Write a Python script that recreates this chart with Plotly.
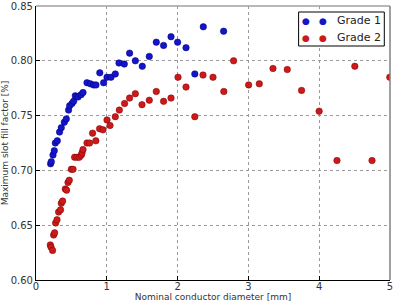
import plotly.graph_objects as go

# Grade 1 (blue)
g1_x = [0.206, 0.216, 0.240, 0.258, 0.273, 0.301, 0.333, 0.357, 0.400, 0.428,
        0.460, 0.475, 0.508, 0.531, 0.555, 0.593, 0.636, 0.664, 0.720, 0.767,
        0.814, 0.847, 0.901, 0.955, 1.003, 1.059, 1.120, 1.172, 1.247, 1.322,
        1.403, 1.501, 1.600, 1.699, 1.802, 1.907, 2.000, 2.119, 2.243, 2.363, 2.650]
g1_y = [0.706, 0.708, 0.714, 0.718, 0.725, 0.727, 0.735, 0.739, 0.744, 0.747,
        0.755, 0.759, 0.761, 0.763, 0.768, 0.767, 0.769, 0.771, 0.780, 0.779,
        0.778, 0.778, 0.789, 0.780, 0.785, 0.785, 0.788, 0.798, 0.797, 0.807,
        0.800, 0.795, 0.804, 0.817, 0.814, 0.822, 0.817, 0.812, 0.788, 0.831, 0.827]

# Grade 2 (red)
g2_x = [0.202, 0.212, 0.234, 0.249, 0.263, 0.277, 0.297, 0.319, 0.347, 0.357,
        0.376, 0.414, 0.432, 0.452, 0.470, 0.499, 0.523, 0.545, 0.579, 0.612,
        0.640, 0.650, 0.664, 0.720, 0.757, 0.799, 0.845, 0.898, 0.946, 1.003,
        1.045, 1.120, 1.177, 1.251, 1.322, 1.403, 1.497, 1.600, 1.699, 1.802,
        1.907, 2.006, 2.119, 2.243, 2.359, 2.500, 2.653, 2.791, 3.003, 3.154,
        3.347, 3.549, 3.751, 3.999, 4.251, 4.503, 4.746, 4.997]
g2_y = [0.632, 0.630, 0.627, 0.641, 0.643, 0.652, 0.655, 0.662, 0.664, 0.670,
        0.672, 0.683, 0.682, 0.689, 0.691, 0.701, 0.701, 0.712, 0.712, 0.712,
        0.714, 0.716, 0.719, 0.725, 0.725, 0.734, 0.727, 0.738, 0.737, 0.746,
        0.741, 0.749, 0.755, 0.761, 0.766, 0.770, 0.760, 0.764, 0.772, 0.763,
        0.766, 0.785, 0.776, 0.749, 0.787, 0.785, 0.772, 0.800, 0.778, 0.779,
        0.793, 0.792, 0.773, 0.754, 0.709, 0.795, 0.709, 0.785]

x_ticks = [0, 1, 2, 3, 4, 5]
y_ticks = [0.60, 0.65, 0.70, 0.75, 0.80, 0.85]
y_tick_text = ["0.60", "0.65", "0.70", "0.75", "0.80", "0.85"]

series_names = ["Grade 1", "Grade 2"]
blue = "#1414c8"
red = "#cc1a1a"

FONT = "DejaVu Sans"

fig = go.Figure()
fig.add_trace(go.Scatter(x=g1_x, y=g1_y, mode="markers", name=series_names[0],
                         marker=dict(color=blue, size=6.5, line=dict(color="#000080", width=0.5)),
                         showlegend=False))
fig.add_trace(go.Scatter(x=g2_x, y=g2_y, mode="markers", name=series_names[1],
                         marker=dict(color=red, size=6.5, line=dict(color="#800000", width=0.5)),
                         showlegend=False))

L, R, T, B = 35.7, 7.3, 5.7, 22.3
W, H = 397, 302

fig.update_layout(
    width=W, height=H,
    margin=dict(l=L, r=R, t=T, b=B, pad=0),
    paper_bgcolor="white", plot_bgcolor="white",
    font=dict(family=FONT, size=10, color="#333333"),
    showlegend=False,
)
fig.update_xaxes(
    range=[0, 5], tickvals=x_ticks, ticks="inside", ticklen=4, tickcolor="black",
    showline=True, linecolor="black", linewidth=1.2, mirror=False,
    showgrid=True, gridcolor="#9a9a9a", griddash="dot", gridwidth=1,
    zeroline=False, automargin=False, ticklabelstandoff=-3,
    tickfont=dict(size=10, color="#333333"),
    title=dict(text="Nominal conductor diameter [mm]", font=dict(size=9, color="#333333"), standoff=1),
)
fig.update_yaxes(
    range=[0.60, 0.85], tickvals=y_ticks, ticktext=y_tick_text, ticks="inside", ticklen=4,
    tickcolor="black",
    showline=True, linecolor="black", linewidth=1.2, mirror=False,
    showgrid=True, gridcolor="#9a9a9a", griddash="dot", gridwidth=1,
    zeroline=False, automargin=False,
    tickfont=dict(size=10, color="#333333"),
    title=dict(text="Maximum slot fill factor [%]", font=dict(size=9, color="#333333"), standoff=3),
)

# top and right spines (gray)
fig.add_shape(type="line", xref="paper", yref="paper", x0=0, x1=1, y0=1, y1=1,
              line=dict(color="#a0a0a0", width=1.5))
fig.add_shape(type="line", xref="paper", yref="paper", x0=1, x1=1, y0=0, y1=1,
              line=dict(color="#808080", width=1.5))

# custom legend with two markers per entry
pw, ph = W - L - R, H - T - B
def px2x(px):
    return (px - L) / pw
def py2y(py):
    return (H - B - py) / ph

fig.add_shape(type="rect", xref="paper", yref="paper",
              x0=px2x(298.3), x1=px2x(384), y0=py2y(45.7), y1=py2y(11.7),
              line=dict(color="black", width=1), fillcolor="white", layer="above")
for name, col, py in [(series_names[0], blue, 20.7), (series_names[1], red, 37.3)]:
    for mx in (306, 322.7):
        fig.add_annotation(xref="paper", yref="paper", x=px2x(mx), y=py2y(py),
                           text="●", showarrow=False, xanchor="center", yanchor="middle",
                           font=dict(family=FONT, size=9, color=col))
    fig.add_annotation(xref="paper", yref="paper", x=px2x(335), y=py2y(py),
                       text=name, showarrow=False, xanchor="left", yanchor="middle",
                       font=dict(family=FONT, size=11, color="#222222"))

fig.write_html("out.html")
